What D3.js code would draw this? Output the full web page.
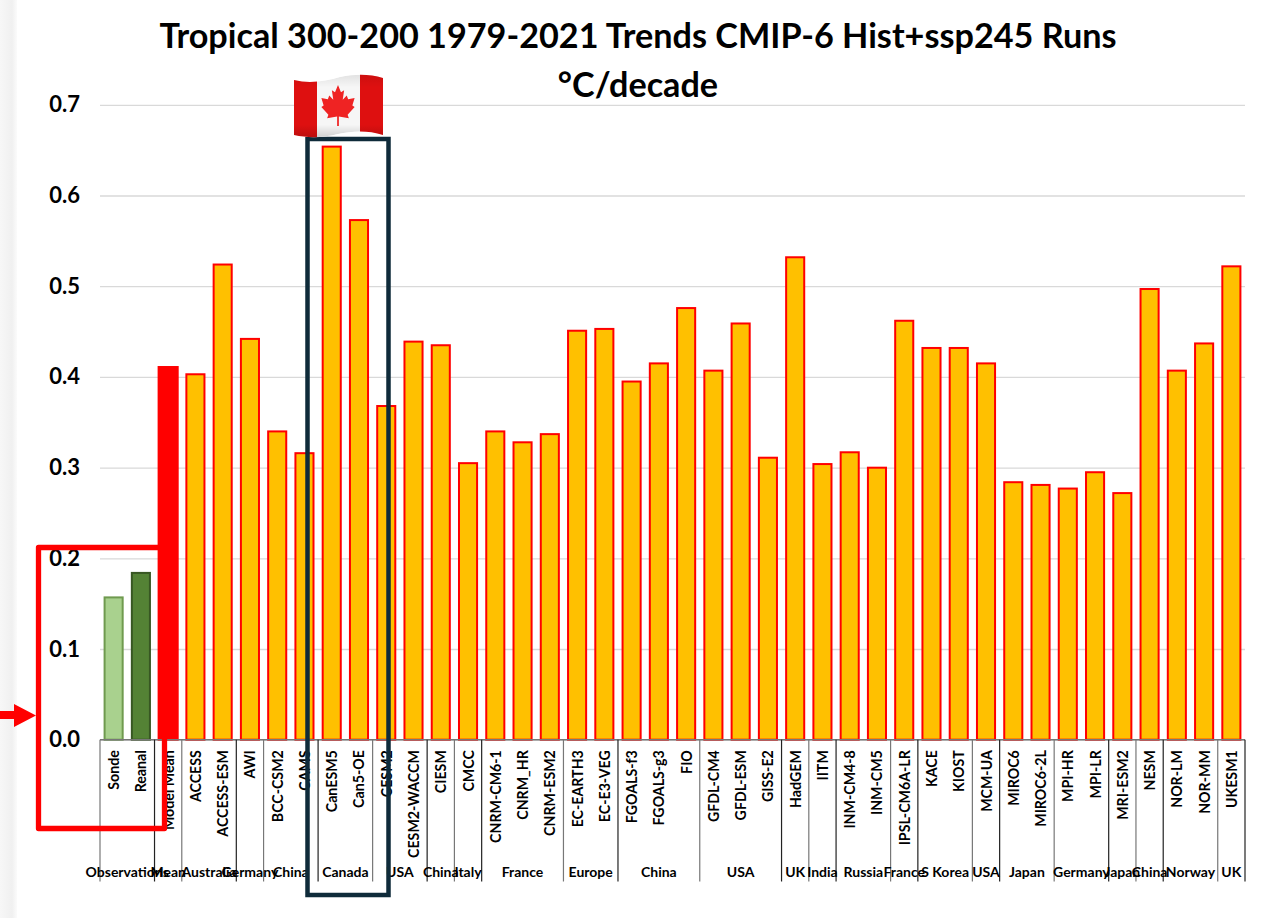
<!DOCTYPE html>
<html><head><meta charset="utf-8">
<script src="https://cdn.jsdelivr.net/npm/d3@7"></script>
<style>html,body{margin:0;padding:0;background:#fff;overflow:hidden}svg{display:block}text{font-family:Lato,"Open Sans",sans-serif;font-weight:700;fill:#000}</style>
</head><body><div id="c"></div>
<script>
const titleLines = ["Tropical 300-200 1979-2021 Trends CMIP-6 Hist+ssp245 Runs","°C/decade"];
const models = ["Sonde","Reanal","Model Mean","ACCESS","ACCESS-ESM","AWI","BCC-CSM2","CAMS","CanESM5","Can5-OE","CESM2","CESM2-WACCM","CIESM","CMCC","CNRM-CM6-1","CNRM_HR","CNRM-ESM2","EC-EARTH3","EC-E3-VEG","FGOALS-f3","FGOALS-g3","FIO","GFDL-CM4","GFDL-ESM","GISS-E2","HadGEM","IITM","INM-CM4-8","INM-CM5","IPSL-CM6A-LR","KACE","KIOST","MCM-UA","MIROC6","MIROC6-2L","MPI-HR","MPI-LR","MRI-ESM2","NESM","NOR-LM","NOR-MM","UKESM1"];
const trends = [.158,.185,.412,.404,.525,.443,.341,.317,.655,.574,.369,.44,.436,.306,.341,.329,.338,.452,.454,.396,.416,.477,.408,.46,.312,.533,.305,.318,.301,.463,.433,.433,.416,.285,.282,.278,.296,.273,.498,.408,.438,.523];
const groupNames = ["Observations","Mean","Australia","Germany","China","Canada","USA","China","Italy","France","Europe","China","USA","UK","India","Russia","France","S Korea","USA","Japan","Germany","Japan","China","Norway","UK"];
const groupSizes = [2,1,2,1,2,2,2,1,1,3,2,3,3,1,1,2,1,2,1,2,2,1,1,2,1];
const yTicks = [0,.1,.2,.3,.4,.5,.6,.7];

const W=1271,H=918;
const svg=d3.select("#c").append("svg").attr("width",W).attr("height",H);
const defs=svg.append("defs");
const lg=defs.append("linearGradient").attr("id","edge");
lg.append("stop").attr("offset",0).attr("stop-color","#f7f7f7");
lg.append("stop").attr("offset",.7).attr("stop-color","#f0f0f0");
lg.append("stop").attr("offset",1).attr("stop-color","#fbfbfb");
svg.append("rect").attr("width",17).attr("height",H).attr("fill","url(#edge)");

const x=d3.scaleBand().domain(d3.range(models.length)).range([100,1245]).paddingInner(.3).paddingOuter(.15);
const y=d3.scaleLinear().domain([0,.7]).range([739.7,104.8]);

// value axis with gridlines
const ya=svg.append("g").attr("transform","translate(100,0)")
 .call(d3.axisLeft(y).tickValues(yTicks).tickFormat(d3.format(".1f")).tickSize(-1145).tickPadding(20));
ya.select(".domain").remove();
ya.selectAll("line").attr("stroke","#d9d9d9").attr("stroke-width",1.3);
ya.selectAll("text").attr("font-size",22);

// bars
const barStyle=i=>i===0?["#a9d18e","#6f9a4f"]:i===1?["#548235","#385723"]:i===2?["#ff0000","#ff0000"]:["#ffc000","#ff0000"];
svg.append("g").selectAll("rect").data(trends).join("rect")
 .attr("x",(d,i)=>x(i)+.5-(i===2?.5:0)).attr("width",(d,i)=>x.bandwidth()-1+(i===2?1:0))
 .attr("y",d=>y(d)+1).attr("height",d=>y(0)-y(d)-1)
 .attr("fill",(d,i)=>barStyle(i)[0]).attr("stroke",(d,i)=>barStyle(i)[1]).attr("stroke-width",2);

// category axis
const x0=x.range()[0];
svg.append("line").attr("x1",x0).attr("x2",x.range()[1]).attr("y1",y(0)).attr("y2",y(0)).attr("stroke","#777").attr("stroke-width",1.5);
const xa=svg.append("g").attr("transform",`translate(0,${y(0)})`)
 .call(d3.axisBottom(x).tickSize(0).tickFormat(i=>models[i]));
xa.select(".domain").remove();
xa.selectAll("text").attr("font-size",14.2).attr("text-anchor","end").attr("dy",0).attr("dominant-baseline","central")
 .attr("transform","translate(0,10.5) rotate(-90)").attr("x",0).attr("y",0);

// group separators and labels
let cum=0;const bounds=[0];groupSizes.forEach(n=>{cum+=n;bounds.push(cum)});
const pos=d3.scaleLinear().domain([0,models.length]).range(x.range());
svg.append("g").selectAll("line").data(bounds).join("line")
 .attr("x1",d=>pos(d)).attr("x2",d=>pos(d)).attr("y1",y(0)).attr("y2",881.5)
 .attr("stroke",(d,i)=>i%2?"#222":"#777").attr("stroke-width",1.2);
svg.append("g").selectAll("text").data(groupNames).join("text")
 .attr("x",(d,i)=>pos((bounds[i]+bounds[i+1])/2)).attr("y",877).attr("text-anchor","middle")
 .attr("font-size",14).text(d=>d);

// title
svg.append("g").selectAll("text").data(titleLines).join("text")
 .attr("x",638).attr("y",(d,i)=>48+i*49).attr("text-anchor","middle").attr("font-size",34.2).text(d=>d);

// annotations
svg.append("rect").attr("x",38.5).attr("y",547.5).attr("width",126).attr("height",281)
 .attr("fill","none").attr("stroke","#ff0000").attr("stroke-width",5.3).attr("stroke-linejoin","round");
svg.append("path").attr("d","M0 711H14V704L36 715.5L14 727V719H0Z").attr("fill","#ff0000");
svg.append("rect").attr("x",307.5).attr("y",139).attr("width",81).attr("height",756)
 .attr("fill","none").attr("stroke","#0f2b3a").attr("stroke-width",4.5);

// flag
const shade=defs.append("linearGradient").attr("id","sh").attr("x1",0).attr("x2",0).attr("y1",0).attr("y2",1);
shade.append("stop").attr("offset",0).attr("stop-color","#000").attr("stop-opacity",.08);
shade.append("stop").attr("offset",.2).attr("stop-color","#000").attr("stop-opacity",0);
shade.append("stop").attr("offset",.8).attr("stop-color","#000").attr("stop-opacity",0);
shade.append("stop").attr("offset",1).attr("stop-color","#000").attr("stop-opacity",.15);
const flagOutline="M294 80C310 84 326 81 340 77C355 74 370 74 383 78V135C368 130 352 131 338 134C322 138 308 138 294 135Z";
defs.append("clipPath").attr("id","fl").append("path").attr("d",flagOutline);
const fg=svg.append("g").attr("clip-path","url(#fl)");
fg.append("rect").attr("x",290).attr("y",70).attr("width",98).attr("height",72).attr("fill","#f6f6f6");
fg.append("path").attr("d","M290 70H317V142H290Z").attr("fill","#de1010");
fg.append("path").attr("d","M360 70H388V142H360Z").attr("fill","#de1010");
const half=[[0,-1],[.17,-.65],[.35,-.75],[.27,-.3],[.5,-.5],[.58,-.32],[.95,-.38],[.82,-.02],[.95,.05],[.55,.42],[.62,.58],[.05,.5]];
const leaf=half.concat([[.05,.95],[-.05,.95]]).concat(half.slice(1).reverse().map(p=>[-p[0],p[1]]));
fg.append("path").attr("d",d3.line().x(p=>338+p[0]*17.5).y(p=>106+p[1]*21)(leaf)+"Z").attr("fill","#ef2323");
fg.append("path").attr("d",flagOutline).attr("fill","url(#sh)");
</script></body></html>
